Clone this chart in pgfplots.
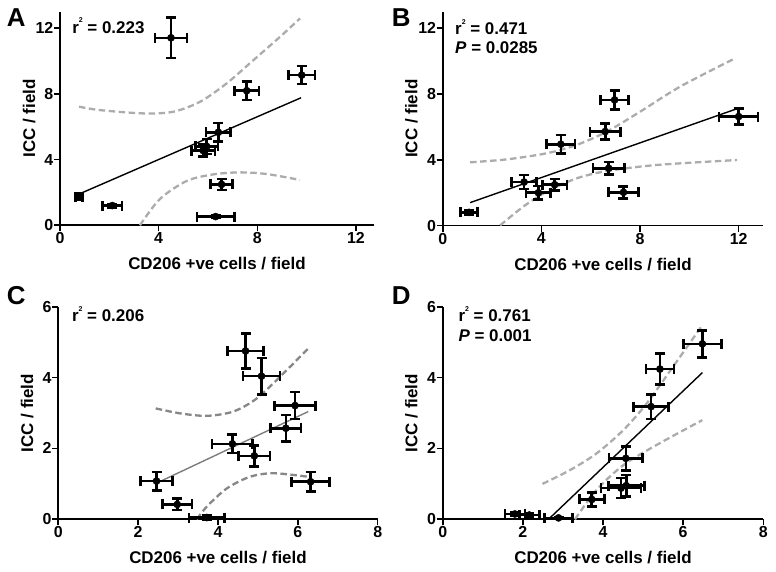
\documentclass[border=0pt]{standalone}
\usepackage{fontspec}
\setmainfont{Liberation Sans}
\usepackage{pgfplots}
\pgfplotsset{compat=1.18}
\usepackage{pgfplotstable}

\definecolor{bandgray}{RGB}{172,172,172}
\definecolor{darkband}{RGB}{135,135,135}
\definecolor{reggray}{RGB}{125,125,125}

\pgfplotstableread{
x y ex ey
4.50 11.41 0.65 1.24
7.57 8.19 0.49 0.56
9.80 9.14 0.53 0.55
6.42 5.66 0.50 0.56
5.80 4.55 0.48 0.38
5.95 4.80 0.45 0.45
6.55 2.49 0.45 0.33
6.31 0.53 0.76 0.05
2.12 1.20 0.39 0.10
0.77 1.74 0.15 0.20
}\dataA
\pgfplotstableread{
x y ex ey
12.00 6.63 0.79 0.48
6.97 7.64 0.56 0.59
6.59 5.72 0.62 0.49
4.79 4.95 0.58 0.56
6.73 3.49 0.63 0.37
7.33 2.03 0.61 0.36
1.07 0.81 0.34 0.12
3.30 2.65 0.50 0.42
3.88 2.00 0.50 0.40
4.54 2.49 0.50 0.35
}\dataB
\pgfplotstableread{
x y ex ey
4.69 4.75 0.45 0.50
5.09 4.04 0.46 0.51
5.93 3.21 0.51 0.38
5.70 2.57 0.38 0.37
4.36 2.13 0.51 0.26
4.91 1.79 0.39 0.30
6.32 1.06 0.48 0.27
2.46 1.08 0.40 0.26
2.98 0.42 0.37 0.16
3.72 0.05 0.45 0.05
}\dataC
\pgfplotstableread{
x y ex ey
6.48 4.95 0.47 0.38
5.42 4.24 0.35 0.44
5.20 3.18 0.44 0.35
4.57 1.72 0.42 0.34
4.45 0.88 0.50 0.28
4.58 0.95 0.45 0.30
3.72 0.56 0.31 0.20
1.80 0.15 0.25 0.05
2.16 0.12 0.25 0.05
2.89 0.04 0.35 0.03
}\dataD

\pgfplotsset{
  panel/.style={
    scale only axis,
    anchor=south west,
    axis lines=left,
    axis line style={-, line width=1.6bp, black},
    tick align=outside,
    major tick length=6bp,
    every tick/.style={line width=1.6bp, black},
    /pgf/number format/assume math mode=true,
    ticklabel style={font=\bfseries\fontsize{16}{16}\selectfont},
    xticklabel style={inner sep=1bp},
    yticklabel style={inner sep=0.5bp},
    label style={font=\bfseries\fontsize{17}{17}\selectfont},
    xlabel={CD206 +ve cells / field},
    ylabel={ICC / field},
    xlabel style={at={(axis description cs:0.5,-0.209)}, anchor=base},
    ylabel style={at={(axis description cs:-0.079,0.5)}, anchor=base},
    clip=false,
  },
  pts/.style={black, only marks, mark=*, mark size=3.6bp,
    error bars/.cd, x dir=both, x explicit, y dir=both, y explicit,
    error bar style={line width=2.6bp},
    error mark options={rotate=90, line width=2.6bp, mark size=5bp, black}},
  reg/.style={black, line width=1.4bp},
  band/.style={bandgray, line width=2.3bp, dash pattern=on 6.5bp off 3.5bp, smooth},
}
\tikzset{
  txt/.style={anchor=base west, font=\bfseries\fontsize{17}{17}\selectfont, inner sep=0pt},
  letter/.style={anchor=base west, font=\bfseries\fontsize{26}{26}\selectfont, inner sep=0pt},
}
\newcommand{\rsq}{r\raisebox{0.62em}{\fontsize{7}{7}\selectfont 2}}

\begin{document}
\begin{tikzpicture}
\useasboundingbox (0,0) rectangle (776bp,572bp);

% ---------------- A
\begin{axis}[panel, at={(60bp,346.7bp)}, width=314bp, height=213.6bp,
  xmin=0, xmax=12.73, ymin=0, ymax=13, xtick={0,4,8,12}, ytick={0,4,8,12}]
\addplot[band] coordinates {(0.77,7.22) (1.62,7.01) (3.38,6.81) (4.59,6.91) (5.68,7.52) (6.76,8.64) (7.84,10.05) (8.92,11.47) (9.73,12.59)};
\addplot[band] coordinates {(3.24,0) (4.05,1.60) (5.14,2.70) (6.22,3.10) (7.30,3.22) (8.38,3.12) (9.73,2.76)};
\addplot[reg] coordinates {(0.77,1.90) (9.77,7.76)};
\addplot+[pts] table[x=x, y=y, x error=ex, y error=ey] {\dataA};
\node[txt] at (axis cs:0.49,11.68) {\rsq{} = 0.223};
\end{axis}

% ---------------- B
\begin{axis}[panel, at={(442.7bp,346.3bp)}, width=320.6bp, height=214bp,
  xmin=0, xmax=13, ymin=0, ymax=13, xtick={0,4,8,12}, ytick={0,4,8,12}]
\addplot[band] coordinates {(1.11,3.85) (2.60,4.03) (4.22,4.40) (5.44,4.91) (6.66,5.72) (8.01,6.93) (9.63,8.45) (11.87,10.18)};
\addplot[band] coordinates {(2.33,0.02) (3.27,1.16) (4.22,2.07) (5.44,2.88) (6.66,3.32) (8.69,3.69) (11.94,3.99)};
\addplot[reg] coordinates {(1.11,1.40) (12.0,7.14)};
\addplot+[pts] table[x=x, y=y, x error=ex, y error=ey] {\dataB};
\node[txt] at (axis cs:0.5,11.6) {\rsq{} = 0.471};
\node[txt] at (axis cs:0.5,10.49) {\textit{P} = 0.0285};
\end{axis}

% ---------------- C
\begin{axis}[panel, at={(58.3bp,52.7bp)}, width=319.4bp, height=212.6bp,
  xmin=0, xmax=8, ymin=0, ymax=6, xtick={0,2,4,6,8}, ytick={0,2,4,6}]
\addplot[band, darkband] coordinates {(2.44,3.13) (3.05,2.99) (3.72,2.92) (4.38,3.04) (4.97,3.41) (5.64,4.12) (6.26,4.82)};
\addplot[band, darkband] coordinates {(3.47,0) (3.72,0.36) (4.22,0.87) (4.80,1.20) (5.39,1.30) (6.26,1.20)};
\addplot[reg, reggray] coordinates {(2.46,1.02) (6.26,3.04)};
\addplot+[pts] table[x=x, y=y, x error=ex, y error=ey] {\dataC};
\node[txt] at (axis cs:0.34,5.58) {\rsq{} = 0.206};
\end{axis}

% ---------------- D
\begin{axis}[panel, at={(442.7bp,52.7bp)}, width=320.6bp, height=212.6bp,
  xmin=0, xmax=8, ymin=0, ymax=6, xtick={0,2,4,6,8}, ytick={0,2,4,6}]
\addplot[band] coordinates {(2.49,1.0) (3.18,1.39) (3.84,1.86) (4.51,2.52) (5.09,3.27) (5.75,4.31) (6.48,5.48)};
\addplot[band] coordinates {(3.30,0) (3.84,0.83) (4.51,1.53) (5.34,2.10) (6.48,2.80)};
\addplot[reg] coordinates {(2.64,0) (6.48,4.14)};
\addplot+[pts] table[x=x, y=y, x error=ex, y error=ey] {\dataD};
\node[txt] at (axis cs:0.39,5.58) {\rsq{} = 0.761};
\node[txt] at (axis cs:0.39,5.01) {\textit{P} = 0.001};
\end{axis}

\node[letter] at (6.7bp,545.3bp) {A};
\node[letter] at (391.7bp,545.3bp) {B};
\node[letter] at (6.7bp,267.5bp) {C};
\node[letter] at (391.7bp,267.5bp) {D};
\end{tikzpicture}
\end{document}
